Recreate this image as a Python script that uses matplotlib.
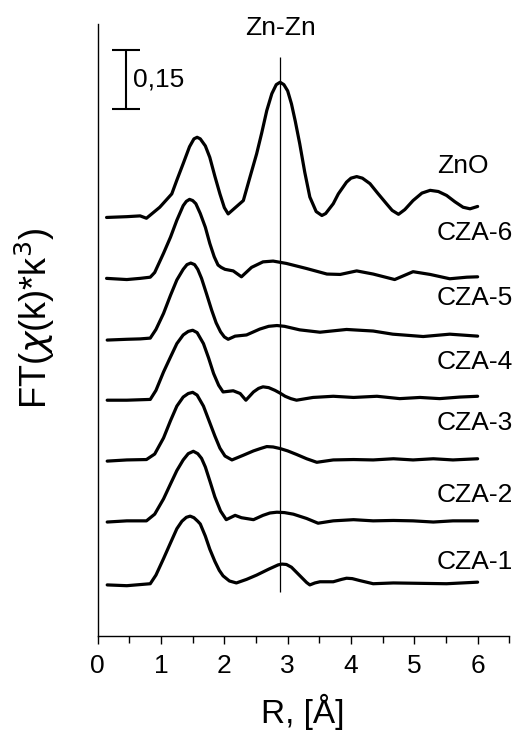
import matplotlib
matplotlib.use("Agg")
import matplotlib.pyplot as plt
from matplotlib.ticker import MultipleLocator

plt.rcParams['font.family'] = ['Liberation Sans', 'DejaVu Sans']

# ---- data (R in Angstrom, FT magnitude) ----
names = ["CZA-1", "CZA-2", "CZA-3", "CZA-4", "CZA-5", "CZA-6", "ZnO"]
offsets = [0.13, 0.29, 0.445, 0.60, 0.755, 0.91, 1.065]
label_y = [0.188, 0.359, 0.542, 0.697, 0.860, 1.025, 1.196]

r_cza1 = [0.15, 0.46, 0.83, 0.92, 1.04, 1.15, 1.25, 1.33, 1.40, 1.46, 1.52, 1.58, 1.62, 1.70, 1.77,
          1.85, 1.92, 1.98, 2.08, 2.19, 2.35, 2.51, 2.70, 2.85, 2.91, 2.98, 3.06, 3.14, 3.22, 3.30,
          3.35, 3.43, 3.51, 3.72, 3.85, 3.93, 4.02, 4.14, 4.35, 4.67, 5.09, 5.51, 6.0]
v_cza1 = [0.0, -0.002, 0.003, 0.025, 0.067, 0.107, 0.143, 0.162, 0.172, 0.175, 0.171, 0.162, 0.155,
          0.124, 0.091, 0.060, 0.037, 0.023, 0.010, 0.005, 0.014, 0.025, 0.040, 0.051, 0.053, 0.052,
          0.045, 0.032, 0.019, 0.006, 0.0, 0.005, 0.008, 0.008, 0.014, 0.017, 0.016, 0.011, 0.003,
          0.005, 0.004, 0.003, 0.007]

r_cza2 = [0.15, 0.46, 0.77, 0.90, 1.04, 1.15, 1.25, 1.35, 1.43, 1.51, 1.58, 1.64, 1.70, 1.78, 1.85,
          1.94, 2.03, 2.17, 2.27, 2.46, 2.61, 2.72, 2.83, 2.95, 3.09, 3.30, 3.48, 3.72, 4.04, 4.35,
          4.67, 4.98, 5.30, 5.61, 6.0]
v_cza2 = [0.0, 0.003, 0.003, 0.020, 0.059, 0.097, 0.131, 0.158, 0.174, 0.180, 0.174, 0.162, 0.140,
          0.100, 0.064, 0.028, 0.006, 0.017, 0.011, 0.006, 0.017, 0.023, 0.025, 0.024, 0.020, 0.009,
          -0.003, 0.003, 0.006, 0.003, 0.004, 0.003, 0.0, 0.003, 0.003]

r_cza3 = [0.15, 0.46, 0.77, 0.90, 1.04, 1.15, 1.25, 1.35, 1.43, 1.50, 1.57, 1.67, 1.76, 1.85, 1.93,
          2.01, 2.12, 2.30, 2.46, 2.57, 2.67, 2.77, 2.88, 3.00, 3.14, 3.30, 3.46, 3.72, 4.04, 4.35,
          4.67, 4.98, 5.30, 5.61, 6.0]
v_cza3 = [0.0, 0.003, 0.004, 0.018, 0.059, 0.103, 0.140, 0.163, 0.172, 0.175, 0.168, 0.140, 0.102,
          0.064, 0.033, 0.013, 0.003, 0.015, 0.026, 0.032, 0.037, 0.036, 0.032, 0.026, 0.017, 0.006,
          -0.003, 0.003, 0.004, 0.003, 0.006, 0.003, 0.006, 0.003, 0.006]

r_cza4 = [0.15, 0.46, 0.83, 0.92, 1.04, 1.15, 1.25, 1.35, 1.43, 1.50, 1.57, 1.67, 1.75, 1.83, 1.91,
          1.98, 2.14, 2.25, 2.34, 2.46, 2.54, 2.61, 2.70, 2.80, 2.88, 2.96, 3.05, 3.14, 3.40, 3.72,
          4.04, 4.41, 4.77, 5.09, 5.40, 5.72, 6.0]
v_cza4 = [0.0, 0.0, 0.002, 0.025, 0.072, 0.110, 0.144, 0.166, 0.175, 0.178, 0.172, 0.144, 0.108,
          0.068, 0.038, 0.021, 0.024, 0.017, 0.0, 0.021, 0.030, 0.034, 0.032, 0.025, 0.018, 0.010,
          0.004, 0.0, 0.007, 0.010, 0.007, 0.010, 0.004, 0.007, 0.004, 0.008, 0.010]

r_cza5 = [0.15, 0.46, 0.67, 0.83, 0.92, 1.04, 1.15, 1.25, 1.35, 1.41, 1.47, 1.53, 1.58, 1.64, 1.72,
          1.80, 1.87, 1.94, 2.00, 2.06, 2.17, 2.35, 2.56, 2.70, 2.83, 2.95, 3.19, 3.51, 3.93, 4.35,
          4.66, 5.14, 5.56, 6.0]
v_cza5 = [-0.002, 0.0, 0.001, 0.003, 0.025, 0.066, 0.112, 0.151, 0.178, 0.190, 0.194, 0.190, 0.178,
          0.155, 0.115, 0.074, 0.042, 0.019, 0.006, 0.0, 0.008, 0.011, 0.026, 0.033, 0.035, 0.033,
          0.024, 0.018, 0.025, 0.021, 0.013, 0.007, 0.013, 0.008]

r_cza6 = [0.14, 0.46, 0.67, 0.83, 0.90, 1.04, 1.15, 1.25, 1.35, 1.40, 1.45, 1.50, 1.55, 1.62, 1.70,
          1.77, 1.84, 1.90, 1.95, 2.01, 2.14, 2.27, 2.43, 2.61, 2.77, 2.98, 3.30, 3.62, 3.83, 4.09,
          4.35, 4.69, 4.98, 5.25, 5.56, 5.83, 6.0]
v_cza6 = [0.0, -0.003, 0.0, 0.003, 0.015, 0.064, 0.105, 0.148, 0.185, 0.196, 0.201, 0.198, 0.190,
          0.165, 0.130, 0.089, 0.055, 0.034, 0.028, 0.023, 0.019, 0.004, 0.028, 0.042, 0.044, 0.038,
          0.025, 0.011, 0.010, 0.019, 0.011, -0.003, 0.017, 0.010, -0.001, 0.003, 0.004]

r_zno = [0.14, 0.46, 0.67, 0.77, 0.98, 1.17, 1.25, 1.35, 1.45, 1.52, 1.57, 1.62, 1.70, 1.77, 1.85,
         1.93, 2.00, 2.06, 2.30, 2.40, 2.51, 2.59, 2.67, 2.75, 2.82, 2.88, 2.94, 3.00, 3.06, 3.12,
         3.19, 3.27, 3.35, 3.45, 3.54, 3.60, 3.72, 3.80, 3.93, 4.00, 4.09, 4.18, 4.30, 4.42, 4.56,
         4.65, 4.75, 4.85, 4.98, 5.12, 5.25, 5.38, 5.51, 5.64, 5.77, 5.88, 6.0]
v_zno = [0.0, 0.002, 0.004, -0.002, 0.026, 0.060, 0.095, 0.137, 0.180, 0.200, 0.204, 0.200, 0.182,
         0.153, 0.105, 0.060, 0.025, 0.009, 0.043, 0.100, 0.162, 0.215, 0.272, 0.315, 0.338, 0.344,
         0.338, 0.322, 0.289, 0.245, 0.188, 0.115, 0.052, 0.015, 0.005, 0.010, 0.035, 0.060, 0.090,
         0.100, 0.104, 0.100, 0.086, 0.062, 0.035, 0.018, 0.008, 0.020, 0.043, 0.062, 0.069, 0.066,
         0.056, 0.040, 0.026, 0.022, 0.028]

series_r = [r_cza1, r_cza2, r_cza3, r_cza4, r_cza5, r_cza6, r_zno]
series_v = [v_cza1, v_cza2, v_cza3, v_cza4, v_cza5, v_cza6, v_zno]

zn_zn_r = 2.88
scale_value = 0.15

# ---- figure ----
W, H = 517, 731
fig = plt.figure(figsize=(W / 100, H / 100), dpi=100)
ax = fig.add_axes([97.7 / W, 95 / H, 411.6 / W, 612 / H])

for r, v, off in zip(series_r, series_v, offsets):
    ax.plot(r, [val + off for val in v], color='black', lw=2.3, solid_joinstyle='round',
            solid_capstyle='round')

for name, ly in zip(names, label_y):
    ax.text(5.36, ly, name, fontsize=19, ha='left', va='center')

ax.vlines(zn_zn_r, 0.112, 1.473, color='black', lw=0.9)
ax.text(zn_zn_r, 1.547, "Zn-Zn", fontsize=19, ha='center', va='center', clip_on=False)

# scale bar
sb_x, sb_top = 0.45, 1.491
ax.errorbar([sb_x], [sb_top - scale_value / 2], yerr=[scale_value / 2], color='black',
            capsize=10, elinewidth=1.5, capthick=1.5, fmt='none')
ax.text(0.56, sb_top - scale_value / 2, "0,15", fontsize=19, ha='left', va='center')

ax.set_xlim(0, 6.5)
ax.set_ylim(0, 612 / 393)
ax.xaxis.set_major_locator(MultipleLocator(1))
ax.xaxis.set_minor_locator(MultipleLocator(0.5))
ax.tick_params(axis='x', which='major', direction='out', length=6, width=1, labelsize=19, pad=7)
ax.tick_params(axis='x', which='minor', direction='out', length=5, width=1)
ax.set_yticks([])
for s in ['top', 'right']:
    ax.spines[s].set_visible(False)
for s in ['left', 'bottom']:
    ax.spines[s].set_linewidth(1)

fig.text(303 / W, 1 - 712 / H, "R, [Å]", fontsize=24, ha='center', va='center')
fig.text(35 / W, 1 - 318 / H, r"FT($\chi$(k)*k$^{3}$)", fontsize=26, ha='center', va='center',
         rotation=90)

fig.savefig("out.png", dpi=100)
